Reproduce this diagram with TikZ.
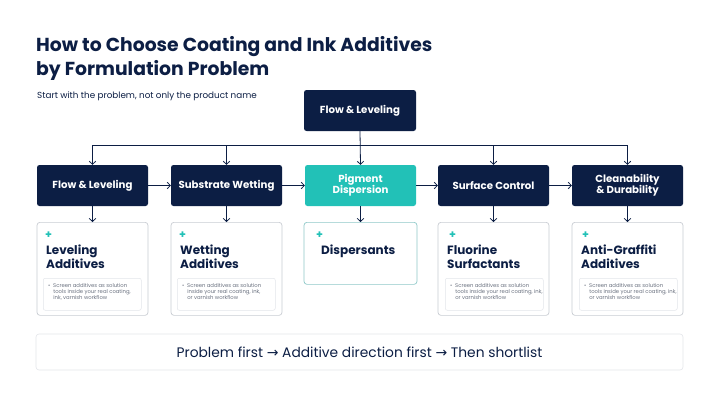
\documentclass[tikz,border=0pt]{standalone}
\usepackage{fontspec}
\setmainfont{Poppins}
\newfontfamily\symfont{DejaVu Sans}
\usetikzlibrary{arrows.meta}
\definecolor{navy}{HTML}{0C1E44}
\definecolor{tealc}{HTML}{22C1B7}
\definecolor{cardline}{HTML}{C9CDD3}
\definecolor{innerline}{HTML}{E3E6EA}
\definecolor{smalltext}{HTML}{6B7280}
\tikzset{
  hdr/.style={rectangle, rounded corners=2.5pt, fill=navy, text=white,
    font=\bfseries\fontsize{10.2}{11.5}\selectfont, minimum width=111pt, minimum height=41pt,
    align=center, inner sep=0pt},
  tealhdr/.style={hdr, fill=tealc},
  arr/.style={-{Straight Barb[length=3pt,width=6.5pt]}, draw=navy, line width=0.8pt},
  conn/.style={draw=navy, line width=0.8pt},
  card/.style={draw=cardline, rounded corners=3pt, fill=white, line width=0.7pt},
  inner/.style={draw=innerline, rounded corners=2pt, fill=white, line width=0.5pt},
  plus/.style={text=tealc, font=\bfseries\fontsize{11}{11}\selectfont, inner sep=0pt},
  ctitle/.style={anchor=north west, text=navy, font=\bfseries\fontsize{12}{14}\selectfont, align=left, inner sep=0pt},
  ctext/.style={anchor=north west, text=smalltext, font=\fontsize{5.3}{6.1}\selectfont, align=left, inner sep=0pt},
}
\begin{document}
\begin{tikzpicture}[x=1pt,y=-1pt]
\useasboundingbox[fill=white] (0,0) rectangle (720,404);
% title
\node[anchor=north west, inner sep=0pt, text=navy, align=left,
  font=\bfseries\fontsize{18.8}{24}\selectfont] (title) at (36,36)
  {How to Choose Coating and Ink Additives\\by Formulation Problem};
\node[anchor=west, inner sep=0pt, text=navy, font=\fontsize{8.8}{10}\selectfont] (sub) at (37,96)
  {Start with the problem, not only the product name};
% top node
\node[hdr, minimum width=112pt] (top) at (360,110.5) {Flow \& Leveling};
% row
\node[hdr] (b1) at (92.5,185.5) {Flow \& Leveling};
\node[hdr] (b2) at (226.5,185.5) {Substrate Wetting};
\node[tealhdr] (b3) at (360.5,185.5) {Pigment\\Dispersion};
\node[hdr] (b4) at (493.5,185.5) {Surface Control};
\node[hdr] (b5) at (627.5,185.5) {Cleanability\\\& Durability};
% distribution bus
\coordinate (j1) at (92.5,145);
\coordinate (j2) at (226.5,145);
\coordinate (j3) at (360.5,145);
\coordinate (j4) at (493.5,145);
\coordinate (j5) at (627.5,145);
\draw[conn] (j1) -- (j5);
\draw[arr] (top.south) -- (b3.north);
\draw[arr] (j1) -- (b1.north);
\draw[arr] (j2) -- (b2.north);
\draw[arr] (j4) -- (b4.north);
\draw[arr] (j5) -- (b5.north);
\draw[arr] (b1.east) -- (b2.west);
\draw[arr] (b2.east) -- (b3.west);
\draw[arr] (b3.east) -- (b4.west);
\draw[arr] (b4.east) -- (b5.west);
% cards
\node[card, minimum width=111pt, minimum height=93pt, anchor=north, inner sep=0pt] (c1) at (92.5,222) {};
\node[card, minimum width=111pt, minimum height=93pt, anchor=north, inner sep=0pt] (c2) at (226.5,222) {};
\node[card, draw=tealc!35!cardline, minimum width=113pt, minimum height=62pt, anchor=north, inner sep=0pt] (c3) at (360.5,222) {};
\node[card, minimum width=111pt, minimum height=93pt, anchor=north, inner sep=0pt] (c4) at (493.5,222) {};
\node[card, minimum width=111pt, minimum height=93pt, anchor=north, inner sep=0pt] (c5) at (627.5,222) {};
\draw[arr] (b1.south) -- (c1.north);
\draw[arr] (b2.south) -- (c2.north);
\draw[arr] (b3.south) -- (c3.north);
\draw[arr] (b4.south) -- (c4.north);
\draw[arr] (b5.south) -- (c5.north);
% card contents
\node[plus] (p1) at (48.5,235) {+};
\node[plus] (p2) at (182.5,235) {+};
\node[plus] (p3) at (319.5,235) {+};
\node[plus] (p4) at (452.5,235) {+};
\node[plus] (p5) at (585.5,235) {+};
\node[ctitle] (t1) at (46,244.5) {Leveling\\Additives};
\node[ctitle] (t2) at (180,244.5) {Wetting\\Additives};
\node[ctitle] (t3) at (321,244.5) {Dispersants};
\node[ctitle] (t4) at (447,244.5) {Fluorine\\Surfactants};
\node[ctitle] (t5) at (581,244.5) {Anti-Graffiti\\Additives};
\node[inner, minimum width=98pt, minimum height=32pt, anchor=north west, inner sep=0pt] (i1) at (43,278) {};
\node[inner, minimum width=98pt, minimum height=32pt, anchor=north west, inner sep=0pt] (i2) at (177,278) {};
\node[inner, minimum width=98pt, minimum height=32pt, anchor=north west, inner sep=0pt] (i4) at (445,278) {};
\node[inner, minimum width=98pt, minimum height=32pt, anchor=north west, inner sep=0pt] (i5) at (579,278) {};
\node[ctext] (x1) at (48,283.5) {\textbullet\ \ Screen additives as solution\\\ \ \ \,tools inside your real coating,\\\ \ \ \,ink, varnish workflow};
\node[ctext] (x2) at (182,283.5) {\textbullet\ \ Screen additives as solution\\\ \ \ \,inside your real coating, ink,\\\ \ \ \,or varnish workflow};
\node[ctext] (x4) at (450,283.5) {\textbullet\ \ Screen additives as solution\\\ \ \ \,tools inside your real coating, ink,\\\ \ \ \,or varnish workflow};
\node[ctext] (x5) at (584,283.5) {\textbullet\ \ Screen additives as solution\\\ \ \ \,tools inside your real coating, ink,\\\ \ \ \,or varnish workflow};
% bottom banner
\node[draw=innerline, rounded corners=3pt, fill=white, line width=0.6pt, minimum width=647pt, minimum height=36pt, inner sep=0pt] (banner) at (359.5,352) {};
\node[text=navy, font=\fontsize{13.8}{15}\selectfont, inner sep=0pt] (btext) at (banner.center)
  {Problem first {\symfont\fontsize{14}{15}\selectfont →} Additive direction first {\symfont\fontsize{14}{15}\selectfont →} Then shortlist};
\end{tikzpicture}
\end{document}
